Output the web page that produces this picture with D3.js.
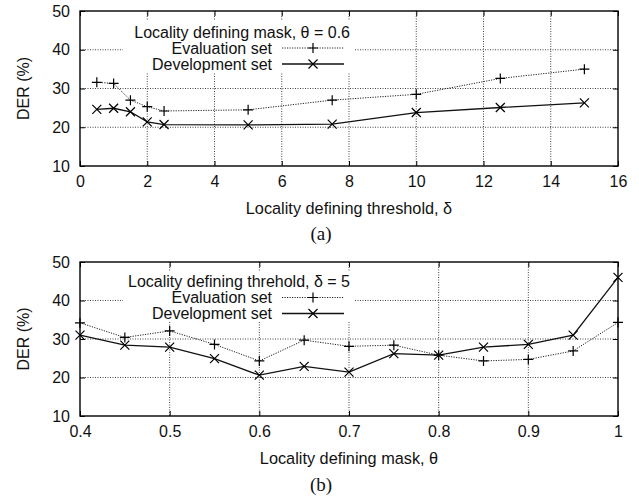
<!DOCTYPE html>
<html><head><meta charset="utf-8">
<script src="https://cdn.jsdelivr.net/npm/d3@7/dist/d3.min.js"></script>
<style>body{margin:0;background:#fff}svg{display:block}</style>
</head><body><svg id="c" width="639" height="497"></svg>
<script>
// Panel (a)
const xA = [0.5, 1, 1.5, 2, 2.5, 5, 7.5, 10, 12.5, 15];
const evalA = [31.6, 31.3, 27.0, 25.3, 24.2, 24.5, 27.0, 28.5, 32.6, 35.0];
const devA = [24.6, 24.9, 24.0, 21.4, 20.7, 20.6, 20.8, 23.8, 25.1, 26.3];
const xTicksA = [0, 2, 4, 6, 8, 10, 12, 14, 16];
// Panel (b)
const xB = [0.4, 0.45, 0.5, 0.55, 0.6, 0.65, 0.7, 0.75, 0.8, 0.85, 0.9, 0.95, 1.0];
const evalB = [34.2, 30.4, 32.1, 28.6, 24.3, 29.7, 28.1, 28.4, 25.8, 24.3, 24.7, 26.9, 34.3];
const devB = [31.0, 28.4, 27.9, 24.9, 20.6, 22.9, 21.4, 26.2, 25.8, 27.9, 28.6, 31.0, 46.0];
const xTicksB = [0.4, 0.5, 0.6, 0.7, 0.8, 0.9, 1];
const yTicks = [10, 20, 30, 40, 50];
const seriesNames = ["Evaluation set", "Development set"];

const svg = d3.select("#c");
const FONT = "'Liberation Sans', Arial, sans-serif";

function panel(o) {
  const g = svg.append("g");
  const x = d3.scaleLinear().domain(o.xDom).range([80, 618]);
  const y = d3.scaleLinear().domain([10, 50]).range([o.bottom, o.top]);
  // grid
  g.append("g").selectAll("line.gx").data(o.xTicks.slice(1, -1)).join("line")
    .attr("x1", d => x(d)).attr("x2", d => x(d)).attr("y1", o.top).attr("y2", o.bottom)
    .attr("stroke", "#444").attr("stroke-width", 1).attr("stroke-dasharray", "1,1.5");
  g.append("g").selectAll("line.gy").data(yTicks.slice(1, -1)).join("line")
    .attr("x1", 80).attr("x2", 618).attr("y1", d => y(d)).attr("y2", d => y(d))
    .attr("stroke", "#444").attr("stroke-width", 1).attr("stroke-dasharray", "1,1.5");
  // legend box (white, hides grid)
  g.append("rect").attr("x", o.legX0).attr("y", o.legY0).attr("width", o.legX1 - o.legX0)
    .attr("height", o.legY1 - o.legY0).attr("fill", "#fff");
  // axes
  const ax = d3.axisBottom(x).tickValues(o.xTicks).tickSize(-5).tickPadding(10)
    .tickFormat(o.fmt);
  const gx = g.append("g").attr("transform", `translate(0,${o.bottom})`).call(ax);
  const ay = d3.axisLeft(y).tickValues(yTicks).tickSize(-5).tickPadding(10);
  const gy = g.append("g").attr("transform", "translate(80,0)").call(ay);
  const axR = d3.axisRight(y).tickValues(yTicks).tickSize(-5).tickFormat("");
  const gr = g.append("g").attr("transform", "translate(618,0)").call(axR);
  const axT = d3.axisTop(x).tickValues(o.xTicks).tickSize(-5).tickFormat("");
  const gt = g.append("g").attr("transform", `translate(0,${o.top})`).call(axT);
  [gx, gy, gr, gt].forEach(a => {
    a.select(".domain").remove();
    a.selectAll("line").attr("stroke", "#000").attr("stroke-width", 1);
    a.selectAll("text").attr("font-family", FONT).attr("font-size", 16).attr("fill", "#111");
  });
  gx.selectAll("text").attr("dy", "0.68em");
  g.append("rect").attr("x", 80).attr("y", o.top).attr("width", 538).attr("height", o.bottom - o.top)
    .attr("fill", "none").attr("stroke", "#000").attr("stroke-width", 1.4);
  // lines
  const ln = d3.line().x(d => x(d[0])).y(d => y(d[1]));
  const ev = o.xs.map((v, i) => [v, o.ev[i]]);
  const dv = o.xs.map((v, i) => [v, o.dv[i]]);
  g.append("path").attr("d", ln(ev)).attr("fill", "none").attr("stroke", "#222")
    .attr("stroke-width", 1).attr("stroke-dasharray", "1.2,1.3");
  g.append("path").attr("d", ln(dv)).attr("fill", "none").attr("stroke", "#111")
    .attr("stroke-width", 1.3);
  const plus = (sel, pts) => sel.selectAll(null).data(pts).join("path")
    .attr("d", d => `M${x(d[0]) - 5},${y(d[1])}h10M${x(d[0])},${y(d[1]) - 5}v10`)
    .attr("stroke", "#000").attr("stroke-width", 1.2).attr("fill", "none");
  const cross = (sel, pts) => sel.selectAll(null).data(pts).join("path")
    .attr("d", d => `M${x(d[0]) - 4.5},${y(d[1]) - 4.5}l9,9M${x(d[0]) - 4.5},${y(d[1]) + 4.5}l9,-9`)
    .attr("stroke", "#000").attr("stroke-width", 1.2).attr("fill", "none");
  plus(g.append("g"), ev);
  cross(g.append("g"), dv);
  // legend
  const lt = (t, xx, yy) => g.append("text").attr("x", xx).attr("y", yy).attr("text-anchor", "end")
    .attr("font-family", FONT).attr("font-size", 16).attr("fill", "#111").text(t);
  lt(o.legTitle, 350, o.legRow0 + 5.5);
  lt(seriesNames[0], 272, o.legRow0 + 21.5);
  lt(seriesNames[1], 272, o.legRow0 + 37.5);
  const r1 = o.legRow0 + 16, r2 = o.legRow0 + 32;
  g.append("line").attr("x1", 282).attr("x2", 344).attr("y1", r1).attr("y2", r1)
    .attr("stroke", "#222").attr("stroke-width", 1).attr("stroke-dasharray", "1.2,1.3");
  g.append("line").attr("x1", 282).attr("x2", 344).attr("y1", r2).attr("y2", r2)
    .attr("stroke", "#111").attr("stroke-width", 1.3);
  g.append("path").attr("d", `M${308},${r1}h10M${313},${r1 - 5}v10`).attr("stroke", "#000").attr("stroke-width", 1.2);
  g.append("path").attr("d", `M${308.5},${r2 - 4.5}l9,9M${308.5},${r2 + 4.5}l9,-9`).attr("stroke", "#000").attr("stroke-width", 1.2);
  // titles
  g.append("text").attr("transform", `translate(29,${(o.top + o.bottom) / 2}) rotate(-90)`)
    .attr("text-anchor", "middle").attr("font-family", FONT).attr("font-size", 16).attr("fill", "#111").text("DER (%)");
  g.append("text").attr("x", 349).attr("y", o.xTitleY).attr("text-anchor", "middle")
    .attr("font-family", FONT).attr("font-size", 16.3).attr("fill", "#111").text(o.xTitle);
  g.append("text").attr("x", 321).attr("y", o.capY).attr("text-anchor", "middle")
    .attr("font-family", "'Liberation Serif', 'Times New Roman', serif").attr("font-size", 19).attr("fill", "#111").text(o.cap);
}

panel({ xDom: [0, 16], xTicks: xTicksA, fmt: d3.format("d"), top: 11, bottom: 166,
  xs: xA, ev: evalA, dv: devA, legX0: 123, legX1: 355, legY0: 20, legY1: 72, legRow0: 32,
  legTitle: "Locality defining mask, θ = 0.6", xTitle: "Locality defining threshold, δ",
  xTitleY: 214, cap: "(a)", capY: 240 });
panel({ xDom: [0.4, 1], xTicks: xTicksB, fmt: d => d === 1 ? "1" : d3.format(".1f")(d), top: 262, bottom: 416,
  xs: xB, ev: evalB, dv: devB, legX0: 123, legX1: 355, legY0: 272, legY1: 322, legRow0: 281.5,
  legTitle: "Locality defining threhold, δ = 5", xTitle: "Locality defining mask, θ",
  xTitleY: 464, cap: "(b)", capY: 491 });
</script></body></html>
